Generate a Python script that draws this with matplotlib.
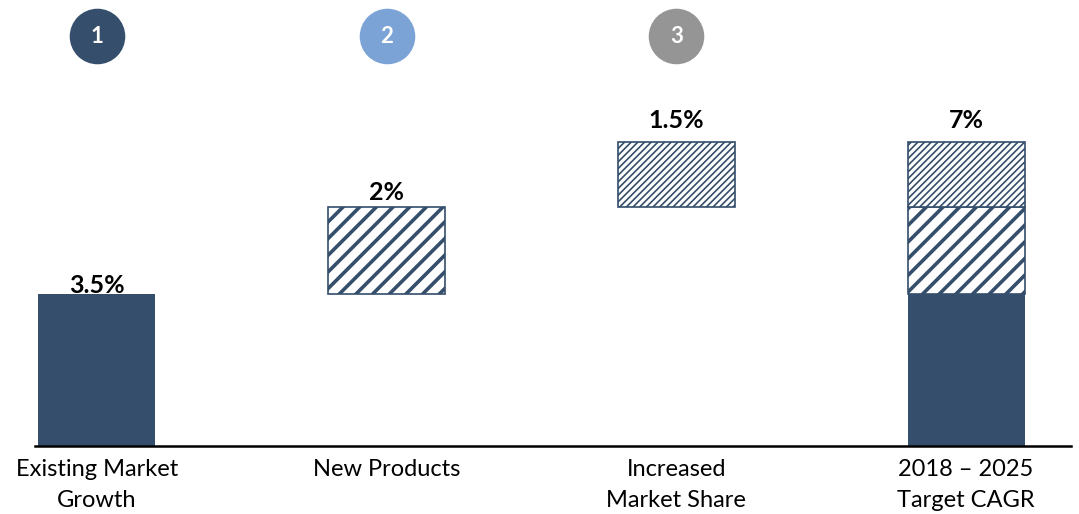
import matplotlib
matplotlib.use("Agg")
import matplotlib.pyplot as plt

# ---- data ----
categories = ["Existing Market\nGrowth", "New Products", "Increased\nMarket Share", "2018 – 2025\nTarget CAGR"]
component_values = [3.5, 2.0, 1.5]          # contributions (percentage points)
total_value = 7.0
value_labels = ["3.5%", "2%", "1.5%", "7%"]
badge_numbers = ["1", "2", "3"]

navy = "#344E6B"
badge_colors = [navy, "#7BA3D6", "#959595"]
hatches = [None, "//", "/////"]
hatch_lw = [0, 2.6, 1.2]

plt.rcParams['font.family'] = ['Lato', 'DejaVu Sans']

fig = plt.figure(figsize=(10.79, 5.14), dpi=100)
ax = fig.add_axes([35/1079, (514-446)/514, (1071-35)/1079, 446/514])

width = 0.404
bottoms = [0.0, component_values[0], component_values[0] + component_values[1]]

def draw_bar(x, h, b, i):
    if hatches[i] is None:
        r = ax.bar(x, h, width, bottom=b, color=navy, edgecolor=navy, linewidth=0)
    else:
        with plt.rc_context({'hatch.linewidth': hatch_lw[i], 'hatch.color': navy}):
            r = ax.bar(x, h, width, bottom=b, color="white", edgecolor=navy,
                       linewidth=1.2, hatch=hatches[i])
        for p in r:
            if hasattr(p, "set_hatch_linewidth"):
                p.set_hatch_linewidth(hatch_lw[i])
    return r

# waterfall components
for i, v in enumerate(component_values):
    draw_bar(i, v, bottoms[i], i)

# stacked total bar
for i, v in enumerate(component_values):
    draw_bar(3, v, bottoms[i], i)

# value labels
tops = [bottoms[i] + component_values[i] for i in range(3)] + [total_value]
offsets = [-0.08, 0.08, 0.22, 0.22]
for i, (t, lab) in enumerate(zip(tops, value_labels)):
    ax.text(i, t + offsets[i], lab, ha="center", va="bottom", fontsize=18,
            fontweight="bold", color="black")

# numbered badges
badge_y = 9.43
for i, (num, c) in enumerate(zip(badge_numbers, badge_colors)):
    ax.scatter([i], [badge_y], s=1600, color=c, zorder=5, clip_on=False, linewidths=0)
    ax.text(i, badge_y, num, ha="center", va="center", color="white",
            fontsize=16, fontweight="bold", zorder=6)

ax.set_xlim(-0.213, 3.362)
ax.set_ylim(0, 10.27)
ax.set_xticks(range(4))
ax.set_xticklabels(categories, fontsize=17, linespacing=1.6)
ax.tick_params(axis="x", length=0, pad=9)
ax.set_yticks([])
for s in ["top", "right", "left"]:
    ax.spines[s].set_visible(False)
ax.spines["bottom"].set_linewidth(1.8)
ax.spines["bottom"].set_color("black")

fig.savefig("out.png", dpi=100)
